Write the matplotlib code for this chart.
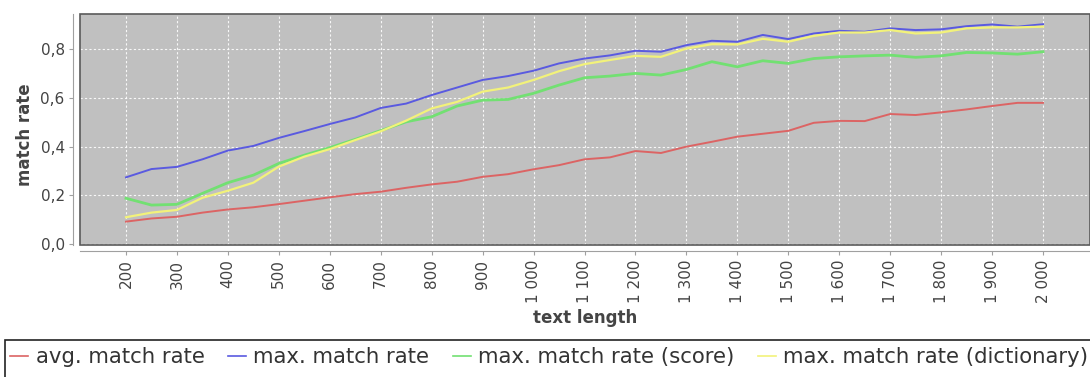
import matplotlib
matplotlib.use("Agg")
import matplotlib.pyplot as plt
from matplotlib.patches import Rectangle
from matplotlib.ticker import FuncFormatter
from matplotlib.lines import Line2D

text_length = list(range(200, 2001, 50))

avg_match = [0.092, 0.105, 0.112, 0.129, 0.142, 0.151, 0.164, 0.178, 0.192, 0.205,
             0.215, 0.231, 0.245, 0.256, 0.276, 0.287, 0.307, 0.324, 0.348, 0.356,
             0.382, 0.374, 0.400, 0.420, 0.441, 0.453, 0.465, 0.498, 0.506, 0.505,
             0.534, 0.530, 0.541, 0.553, 0.567, 0.580, 0.580]
max_match = [0.274, 0.308, 0.317, 0.348, 0.384, 0.403, 0.436, 0.464, 0.493, 0.520,
             0.559, 0.577, 0.612, 0.643, 0.674, 0.690, 0.712, 0.742, 0.762, 0.775,
             0.794, 0.790, 0.817, 0.835, 0.831, 0.859, 0.842, 0.865, 0.876, 0.872,
             0.886, 0.879, 0.882, 0.895, 0.902, 0.893, 0.903]
max_score = [0.188, 0.160, 0.163, 0.208, 0.252, 0.283, 0.331, 0.365, 0.396, 0.430,
             0.466, 0.502, 0.523, 0.567, 0.591, 0.594, 0.619, 0.653, 0.683, 0.690,
             0.701, 0.694, 0.717, 0.749, 0.728, 0.753, 0.742, 0.762, 0.769, 0.773,
             0.776, 0.767, 0.773, 0.787, 0.785, 0.780, 0.790]
max_dict = [0.110, 0.129, 0.140, 0.190, 0.219, 0.252, 0.318, 0.359, 0.390, 0.427,
            0.463, 0.507, 0.557, 0.584, 0.626, 0.643, 0.674, 0.710, 0.739, 0.756,
            0.773, 0.769, 0.803, 0.821, 0.820, 0.843, 0.831, 0.855, 0.869, 0.869,
            0.879, 0.865, 0.869, 0.886, 0.890, 0.890, 0.893]

series_names = ["avg. match rate", "max. match rate", "max. match rate (score)",
                "max. match rate (dictionary)"]
series_values = [avg_match, max_match, max_score, max_dict]
series_colors = ["#dc6464", "#5a5ae0", "#72e072", "#f2f27a"]
series_widths = [1.4, 1.4, 2.0, 1.6]

x_ticks = list(range(200, 2001, 100))
y_ticks = [0.0, 0.2, 0.4, 0.6, 0.8]

W, H = 1090, 377
fig = plt.figure(figsize=(W / 100, H / 100), dpi=100)
left, right, top, bottom = 80, 1090, 14, 245
ax = fig.add_axes([left / W, 1 - bottom / H, (right - left) / W, (bottom - top) / H])
ax.set_facecolor("#c0c0c0")

for name, vals, c, lw in zip(series_names, series_values, series_colors, series_widths):
    ax.plot(text_length, vals, color=c, lw=lw, label=name, solid_joinstyle="round")

px_per_unit = (1043 - 126) / 1800
ax.set_xlim(200 - (126 - left) / px_per_unit, 2000 + (right - 1043) / px_per_unit)
ax.set_ylim(-0.004, 0.945)

ax.set_xticks(x_ticks)
ax.set_yticks(y_ticks)
ax.xaxis.set_major_formatter(FuncFormatter(
    lambda v, p: f"{int(v):,}".replace(",", " ")))
ax.yaxis.set_major_formatter(FuncFormatter(lambda v, p: f"{v:.1f}".replace(".", ",")))
ax.grid(True, color="white", linestyle=(0, (2, 2)), lw=0.8, alpha=0.9)
ax.set_axisbelow(True)

for s in ["top", "right"]:
    ax.spines[s].set_visible(False)
ax.spines["left"].set_position(("outward", 5))
ax.spines["bottom"].set_position(("outward", 4.5))
ax.spines["left"].set_color("#a0a0a0")
ax.spines["bottom"].set_color("#a0a0a0")
ax.add_patch(Rectangle((0, 0), 1, 1, transform=ax.transAxes, fill=False,
                       edgecolor="#5a5a5a", lw=1.2, clip_on=False, zorder=5))

ax.tick_params(axis="both", colors="#a0a0a0", labelcolor="#444444", length=3,
               labelsize=11)
ax.tick_params(axis="x", labelrotation=90, pad=3)
ax.tick_params(axis="y", pad=3)

ax.set_xlabel("text length", fontsize=12, fontweight="bold", color="#444444")
ax.set_ylabel("match rate", fontsize=12, fontweight="bold", color="#444444")
ax.xaxis.set_label_coords((585 - left) / (right - left), (bottom - 318) / (bottom - top))
ax.xaxis.label.set_va("center")
ax.yaxis.set_label_coords((25 - left) / (right - left), (bottom - 135) / (bottom - top))
ax.yaxis.label.set_va("center")

handles = [Line2D([], [], color=c, lw=1.2) for c in series_colors]
fig.legend(handles, series_names, loc="center left",
           bbox_to_anchor=(10 / W, 1 - 357 / H), ncol=4, frameon=False,
           fontsize=15.3, borderpad=0, borderaxespad=0, handlelength=0.85,
           handletextpad=0.35, columnspacing=1.1, labelcolor="#333333")
fig.add_artist(Rectangle((5 / W, -0.02), 1.0, 1 - 340 / H + 0.02,
                         transform=fig.transFigure, fill=False,
                         edgecolor="#222222", lw=1.2))

fig.savefig("out.png", dpi=100, facecolor="white")
